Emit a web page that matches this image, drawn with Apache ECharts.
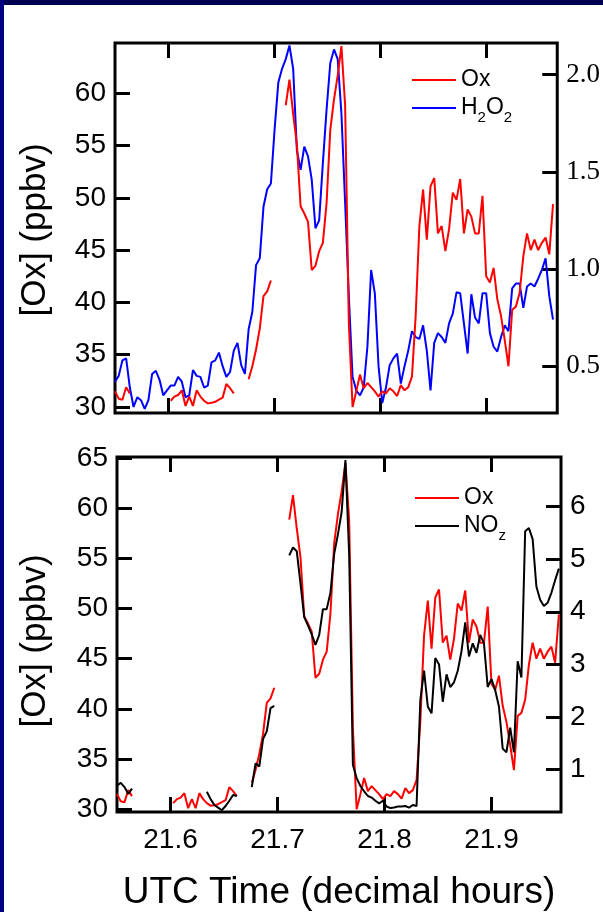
<!DOCTYPE html>
<html>
<head>
<meta charset="utf-8">
<script src="https://cdn.jsdelivr.net/npm/echarts@6/dist/echarts.min.js"></script>
<style>
  html, body { margin: 0; padding: 0; background: #fff; }
  #chart { width: 603px; height: 912px; }
</style>
</head>
<body>
<div id="chart"></div>
<script>
// Sampling grid: UTC decimal hours, one sample every 0.0035 h
const T0 = 21.55;
const DT = 0.0035;

// Ox (ppbv)
const ox = [
  31.5, 30.8, 30.7, 31.9, 31.3, null, null, null, null, null,
  null, null, null, null, null, 30.6, 31.0, 31.15, 31.6, 30.1,
  31.0, 30.1, 31.6, 31.0, 30.6, 30.35, 30.4, 30.5, 30.7, 30.9,
  32.2, 31.8, 31.3, null, null, null, 32.65, 33.9, 35.5, 37.5,
  40.6, 41.05, 42.1, null, null, null, 58.85, 61.3, 58.0, 55.1,
  49.2, 48.5, 47.7, 43.1, 43.5, 44.9, 45.7, 49.5, 56.5, 59.4,
  61.7, 64.5, 58.8, 38.0, 30.0, 31.5, 33.1, 31.8, 32.3, 31.9,
  31.5, 31.0, 31.5, 31.3, 31.8, 31.5, 31.05, 32.1, 31.6, 31.9,
  32.9, 38.7, 47.3, 50.8, 46.0, 51.1, 51.9, 46.6, 47.3, 44.9,
  47.0, 50.5, 49.8, 51.8, 46.6, 48.9, 48.2, 46.6, 46.6, 50.2,
  42.5, 41.9, 43.3, 40.3, 38.7, 36.4, 33.9, 39.3, 39.6, 40.9,
  44.4, 46.6, 45.0, 46.0, 45.0, 45.7, 46.2, 44.6, 49.4, null
];

// H2O2 (ppbv)
const h2o2 = [
  0.42, 0.45, 0.53, 0.54, 0.39, 0.29, 0.34, 0.325, 0.28, 0.325,
  0.46, 0.476, 0.43, 0.35, 0.375, 0.40, 0.40, 0.445, 0.42, 0.34,
  0.35, 0.48, 0.45, 0.445, 0.39, 0.40, 0.52, 0.53, 0.57, 0.50,
  0.445, 0.47, 0.58, 0.62, 0.505, 0.46, 0.69, 0.78, 1.02, 1.055,
  1.32, 1.41, 1.44, 1.72, 1.96, 2.03, 2.08, 2.15, 2.03, 1.61,
  1.51, 1.63, 1.58, 1.46, 1.21, 1.25, 1.545, 1.82, 2.06, 2.13,
  2.08, 1.80, 1.34, 0.86, 0.445, 0.375, 0.35, 0.39, 0.60, 0.995,
  0.875, 0.50, 0.31, 0.39, 0.505, 0.54, 0.565, 0.41, 0.50, 0.58,
  0.68, 0.65, 0.64, 0.71, 0.58, 0.375, 0.62, 0.67, 0.65, 0.62,
  0.72, 0.77, 0.88, 0.875, 0.72, 0.565, 0.87, 0.75, 0.72, 0.875,
  0.875, 0.67, 0.60, 0.575, 0.65, 0.71, 0.68, 0.90, 0.925, 0.925,
  0.80, 0.91, 0.925, 0.91, 0.95, 0.995, 1.055, 0.86, 0.74, null
];

// NOz (ppbv)
const noz = [
  0.70, 0.75, 0.67, 0.54, 0.64, null, null, null, null, null,
  null, null, null, null, null, null, null, null, null, null,
  null, null, null, null, 0.58, 0.44, 0.33, 0.28, 0.23, 0.31,
  0.41, 0.52, 0.50, null, null, null, 0.67, 1.12, 1.06, 1.58,
  1.73, 2.17, 2.21, null, null, null, 5.07, 5.22, 5.15, 4.54,
  3.90, 3.74, 3.57, 3.37, 3.56, 4.05, 4.05, 4.36, 5.10, 5.47,
  5.90, 6.88, 5.10, 1.09, 0.84, 0.69, 0.59, 0.50, 0.47, 0.41,
  0.36, 0.41, 0.30, 0.27, 0.28, 0.30, 0.30, 0.31, 0.28, 0.33,
  0.31, 2.32, 2.88, 2.20, 2.07, 3.12, 3.00, 2.29, 2.81, 2.57,
  2.66, 2.88, 3.25, 3.80, 3.15, 3.40, 3.22, 3.56, 3.40, 2.57,
  2.72, 2.51, 2.20, 1.40, 1.33, 1.80, 1.33, 3.06, 2.75, 5.53,
  5.59, 5.38, 4.48, 4.23, 4.11, 4.17, 4.36, 4.60, 4.82, null
];

// Tick positions
const timeTicks = [21.6, 21.7, 21.8, 21.9];
const oxTicksTop = [30, 35, 40, 45, 50, 55, 60];
const h2o2Ticks = [0.5, 1.0, 1.5, 2.0];
const oxTicksBottom = [30, 35, 40, 45, 50, 55, 60, 65];
const nozTicks = [1, 2, 3, 4, 5, 6];

const times = ox.map((_, i) => +(T0 + i * DT).toFixed(4));
const pairs = vals => vals.map((v, i) => [times[i], v === null ? '-' : v]);

const SANS = '"Liberation Sans", Arial, sans-serif';
const SERIF = '"Liberation Serif", "Times New Roman", serif';

const tick = values => ({
  show: true, inside: true, length: 15, customValues: values,
  lineStyle: { color: '#000', width: 3 }
});
const noLine = { show: false };

function xAxis(gridIndex, position, max, labelled) {
  const ax = {
    type: 'value', gridIndex, position, min: 21.55, max,
    axisLine: noLine, splitLine: noLine, axisTick: tick(timeTicks),
    axisLabel: { show: false }
  };
  if (labelled) {
    ax.axisLabel = {
      show: true, customValues: timeTicks, margin: 14,
      color: '#000', fontFamily: SANS, fontSize: 28,
      formatter: v => v.toFixed(1)
    };
    ax.name = 'UTC Time (decimal hours)';
    ax.nameLocation = 'middle';
    ax.nameGap = 62;
    ax.nameTextStyle = { color: '#000', fontFamily: SANS, fontSize: 37 };
  }
  return ax;
}

function yAxis(gridIndex, position, min, max, ticks, font, fmt) {
  return {
    type: 'value', gridIndex, position, min, max,
    axisLine: noLine, splitLine: noLine, axisTick: tick(ticks),
    axisLabel: {
      customValues: ticks, margin: 9, color: '#000',
      fontFamily: font, fontSize: font === SERIF ? 27 : 28,
      formatter: fmt
    }
  };
}

// Rotated y-axis titles
const yTitle = (cx, cy) => ({
  type: 'text', x: cx, y: cy, rotation: Math.PI / 2, z: 50,
  style: {
    text: '[Ox] (ppbv)', fill: '#000', fontFamily: SANS, fontSize: 35,
    align: 'center', verticalAlign: 'middle'
  }
});

const legendText = {
  color: '#000', fontFamily: SANS, fontSize: 23, lineHeight: 34,
  rich: {
    sub: { fontFamily: SANS, fontSize: 15, lineHeight: 15, verticalAlign: 'bottom' }
  }
};
const legendNames = {
  'Ox': 'Ox',
  'H2O2': 'H{sub|2}O{sub|2}',
  'NOz': 'NO{sub|z}'
};

const line = (name, xi, yi, vals, color) => ({
  name, type: 'line', xAxisIndex: xi, yAxisIndex: yi, data: pairs(vals),
  symbol: 'none', connectNulls: false, animation: false,
  lineStyle: { color, width: 2 }, itemStyle: { color }
});

const option = {
  backgroundColor: '#fff',
  animation: false,
  grid: [
    { left: 115, top: 43, width: 444, height: 370, show: true, borderColor: '#000', borderWidth: 3, backgroundColor: 'transparent' },
    { left: 117, top: 457, width: 444, height: 365, show: true, borderColor: '#000', borderWidth: 3, backgroundColor: 'transparent' }
  ],
  xAxis: [
    xAxis(0, 'bottom', 21.967, false),
    xAxis(0, 'top', 21.967, false),
    xAxis(1, 'bottom', 21.965, true),
    xAxis(1, 'top', 21.965, false)
  ],
  yAxis: [
    yAxis(0, 'left', 29.43, 64.8, oxTicksTop, SANS, v => String(v)),
    yAxis(0, 'right', 0.259, 2.163, h2o2Ticks, SERIF, v => v.toFixed(1)),
    yAxis(1, 'left', 29.72, 65.1, oxTicksBottom, SANS, v => String(v)),
    yAxis(1, 'right', 0.196, 6.94, nozTicks, SANS, v => String(v))
  ],
  legend: [
    {
      data: ['Ox', 'H2O2'], orient: 'vertical', left: 407, top: 58,
      itemWidth: 44, itemHeight: 14, itemGap: -6, icon: 'path://M0,6H44V8H0Z',
      textStyle: legendText, formatter: n => legendNames[n], selectedMode: false
    },
    {
      data: ['Ox ', 'NOz'], orient: 'vertical', left: 410, top: 476,
      itemWidth: 44, itemHeight: 14, itemGap: -6, icon: 'path://M0,6H44V8H0Z',
      textStyle: legendText, formatter: n => legendNames[n.trim()], selectedMode: false
    }
  ],
  series: [
    line('H2O2', 0, 1, h2o2, '#0000ff'),
    line('Ox', 0, 0, ox, '#ff0000'),
    line('Ox ', 2, 2, ox, '#ff0000'),
    line('NOz', 2, 3, noz, '#000000')
  ],
  graphic: [
    yTitle(35, 230),
    yTitle(35, 641),
    { type: 'rect', shape: { x: 0, y: 0, width: 603, height: 5 }, style: { fill: '#000050' }, z: 100 },
    { type: 'rect', shape: { x: 0, y: 0, width: 4, height: 912 }, style: { fill: '#000080' }, z: 100 }
  ]
};

const chart = echarts.init(document.getElementById('chart'), null, { renderer: 'canvas' });
chart.setOption(option);
</script>
</body>
</html>
